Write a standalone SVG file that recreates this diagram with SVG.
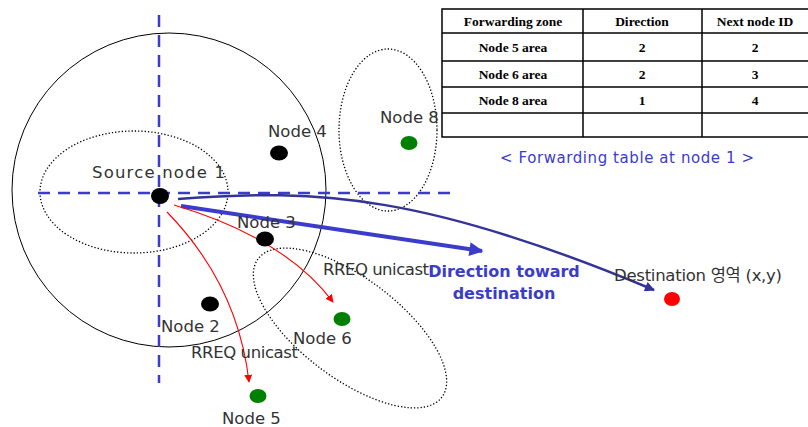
<svg xmlns="http://www.w3.org/2000/svg" width="808" height="427" viewBox="0 0 808 427">
<style>
.lbl{font-family:"DejaVu Sans","Noto Sans CJK KR",sans-serif;font-size:16.5px;fill:#333}
.tb{font-family:"Liberation Serif",serif;font-size:13.5px;font-weight:bold;fill:#000;text-anchor:middle}
.dot{fill:none;stroke:#000;stroke-width:1.3;stroke-dasharray:1.3 2}
.axis{stroke:#3b3bcc;stroke-width:2.5;stroke-dasharray:12 8;fill:none}
.red{fill:none;stroke:#ff0000;stroke-width:1.1}
.grid{stroke:#000;stroke-width:1.5;fill:none}
.dir{font-family:"DejaVu Sans",sans-serif;font-size:16px;font-weight:bold;fill:#3b3bcc;text-anchor:middle}
</style>
<defs>
<marker id="ah-red" viewBox="0 0 10 10" refX="9" refY="5" markerWidth="8" markerHeight="8" markerUnits="userSpaceOnUse" orient="auto"><path d="M0,0 L10,5 L0,10 z" fill="#ff0000"/></marker>
<marker id="ah-blue" viewBox="0 0 10 10" refX="9" refY="5" markerWidth="4" markerHeight="3.5" orient="auto"><path d="M0,0 L10,5 L0,10 z" fill="#3b3bcc"/></marker>
<marker id="ah-navy" viewBox="0 0 10 10" refX="9" refY="5" markerWidth="5" markerHeight="4" orient="auto"><path d="M0,0 L10,5 L0,10 z" fill="#333399"/></marker>
</defs>
<rect width="808" height="427" fill="#fff"/>

<g id="zones">
<circle cx="169" cy="190" r="157" fill="none" stroke="#000" stroke-width="1"/>
<ellipse class="dot" cx="134" cy="192" rx="94" ry="61"/>
<ellipse class="dot" cx="388" cy="130" rx="49" ry="81"/>
<ellipse class="dot" cx="350" cy="328" rx="115" ry="50" transform="rotate(37 350 328)"/>
</g>

<g id="axes">
<line class="axis" x1="159" y1="15" x2="159" y2="383"/>
<line class="axis" x1="38" y1="193" x2="450" y2="193"/>
</g>

<g id="connectors">
<path d="M178,199 C320,188 430,196 654,290" fill="none" stroke="#333399" stroke-width="2.5" marker-end="url(#ah-navy)"/>
<line x1="181" y1="206" x2="482" y2="251" stroke="#3b3bcc" stroke-width="4" marker-end="url(#ah-blue)"/>
<path class="red" d="M174,205 Q285,238 333,302" marker-end="url(#ah-red)"/>
<path class="red" d="M167,212 Q238,285 249,382" marker-end="url(#ah-red)"/>
</g>

<g id="node1"><ellipse cx="160" cy="196" rx="9" ry="8" fill="#000"/><text class="lbl" x="92" y="178" textLength="133">Source node 1</text></g>
<g id="node4"><ellipse cx="279" cy="153" rx="9" ry="7.5" fill="#000"/><text class="lbl" x="268" y="137">Node 4</text></g>
<g id="node3"><ellipse cx="265" cy="239" rx="9" ry="7.5" fill="#000"/><text class="lbl" x="237" y="228">Node 3</text></g>
<g id="node2"><ellipse cx="210" cy="304" rx="9" ry="7.5" fill="#000"/><text class="lbl" x="161" y="332">Node 2</text></g>
<g id="node6"><ellipse cx="342" cy="319" rx="8.5" ry="7" fill="#008000"/><text class="lbl" x="293" y="344">Node 6</text></g>
<g id="node5"><ellipse cx="258" cy="396" rx="8.5" ry="7" fill="#008000"/><text class="lbl" x="222" y="424">Node 5</text></g>
<g id="node8"><ellipse cx="409" cy="143" rx="8.5" ry="7" fill="#008000"/><text class="lbl" x="380" y="123">Node 8</text></g>
<g id="dest"><ellipse cx="672" cy="299" rx="8" ry="7" fill="#ff0000"/><text class="lbl" x="614" y="281" textLength="168">Destination 영역 (x,y)</text></g>

<g id="labels">
<text class="lbl" x="323" y="275" textLength="106">RREQ unicast</text>
<text class="lbl" x="191" y="358" textLength="107">RREQ unicast</text>
<text class="dir" x="504" y="277">Direction toward</text>
<text class="dir" x="504" y="299">destination</text>
</g>

<g id="table">
<rect x="442" y="9" width="370" height="128" fill="#fff" stroke="#000" stroke-width="1.5"/>
<line class="grid" x1="442" y1="33" x2="808" y2="33"/>
<line class="grid" x1="442" y1="61" x2="808" y2="61"/>
<line class="grid" x1="442" y1="87" x2="808" y2="87"/>
<line class="grid" x1="442" y1="113" x2="808" y2="113"/>
<line class="grid" x1="583" y1="9" x2="583" y2="137"/>
<line class="grid" x1="702" y1="9" x2="702" y2="137"/>
<text class="tb" x="513" y="26">Forwarding zone</text>
<text class="tb" x="642" y="26">Direction</text>
<text class="tb" x="755" y="26">Next node ID</text>
<text class="tb" x="513" y="52">Node 5 area</text>
<text class="tb" x="642" y="52">2</text>
<text class="tb" x="755" y="52">2</text>
<text class="tb" x="513" y="79">Node 6 area</text>
<text class="tb" x="642" y="79">2</text>
<text class="tb" x="755" y="79">3</text>
<text class="tb" x="513" y="105">Node 8 area</text>
<text class="tb" x="642" y="105">1</text>
<text class="tb" x="755" y="105">4</text>
<text x="627" y="163" text-anchor="middle" font-family="'DejaVu Sans',sans-serif" font-size="15" fill="#3b3bcc" textLength="254">&lt; Forwarding table at node 1 &gt;</text>
</g>
</svg>
